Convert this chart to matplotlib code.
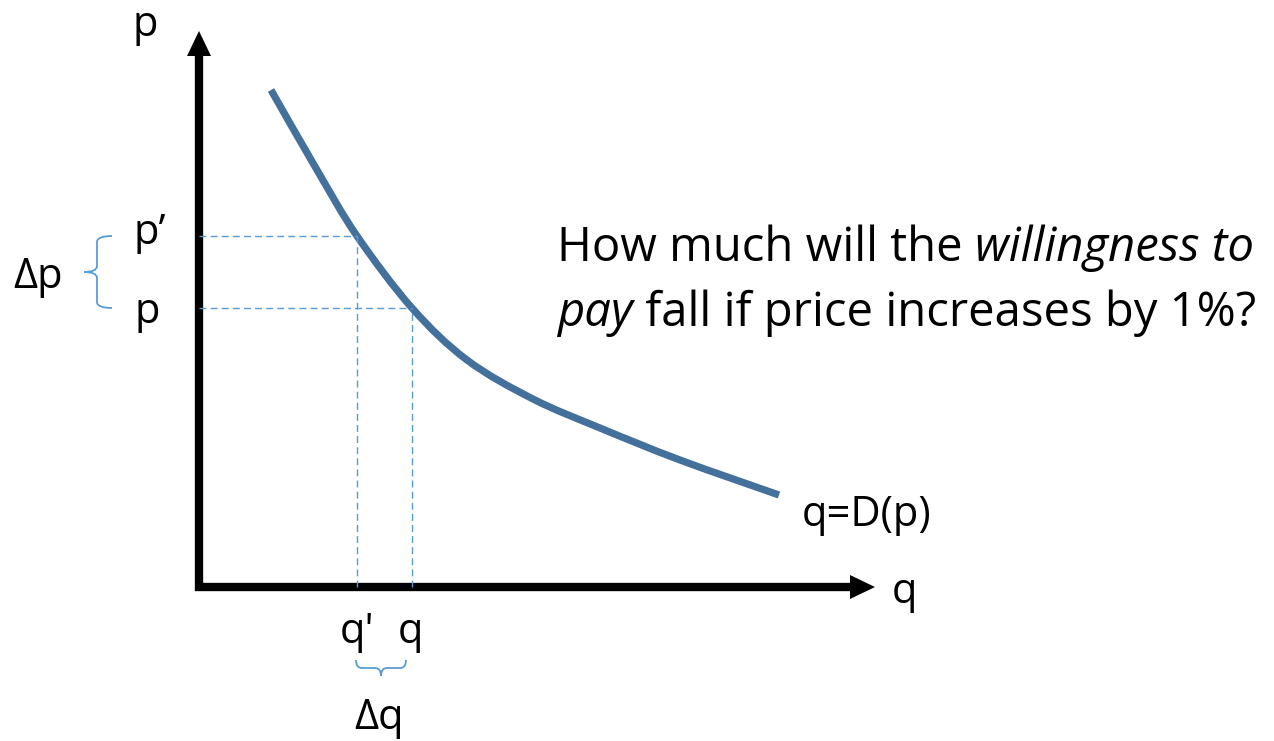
import matplotlib
matplotlib.use("Agg")
import numpy as np
import matplotlib.pyplot as plt
from matplotlib.path import Path
from matplotlib.patches import PathPatch

plt.rcParams['font.family'] = ['Open Sans', 'DejaVu Sans']

# Demand curve q = D(p), read in (quantity, price) units
demand_q = [0.72, 1.18, 1.58, 2.13, 2.68, 3.34, 4.01, 4.81, 5.80]
demand_p = [4.97, 4.17, 3.51, 2.79, 2.27, 1.88, 1.59, 1.27, 0.92]

# Marked points on the curve
q_prime, p_prime = 1.58, 3.51
q_base, p_base = 2.13, 2.79

axis_q_end = 6.76
axis_p_end = 5.56

question_line1 = ("How much will the ", "willingness to")
question_line2 = ("pay", " fall if price increases by 1%?")

CURVE = '#44709c'
GUIDE = '#5b9bd5'

fig = plt.figure(figsize=(12.74, 7.41), dpi=100)
ax = fig.add_axes([0, 0, 1, 1])
ax.set_xlim(-1.99, 10.75)
ax.set_ylim(-1.54, 5.87)
ax.axis('off')

# Axes with arrowheads
head_len, head_half = 0.25, 0.12
ax.plot([0, 0], [-0.04, axis_p_end - head_len + 0.02], color='black', lw=6,
        solid_capstyle='butt')
ax.plot([-0.04, axis_q_end - head_len + 0.02], [0, 0], color='black', lw=6,
        solid_capstyle='butt')
ax.fill([-head_half, head_half, 0], [axis_p_end - head_len] * 2 + [axis_p_end],
        color='black', lw=0)
ax.fill([axis_q_end - head_len] * 2 + [axis_q_end], [-head_half, head_half, 0],
        color='black', lw=0)

# Guide lines from the axes to the curve
dash = dict(color=GUIDE, lw=1.0, ls=(0, (5, 3)))
ax.plot([0, q_prime], [p_prime, p_prime], **dash)
ax.plot([0, q_base], [p_base, p_base], **dash)
ax.plot([q_prime, q_prime], [0, p_prime], **dash)
ax.plot([q_base, q_base], [0, p_base], **dash)


def smooth_path(xs, ys):
    """Cubic Bezier path through the points (Catmull-Rom tangents)."""
    pts = np.column_stack([xs, ys])
    n = len(pts)
    verts = [tuple(pts[0])]
    codes = [Path.MOVETO]
    for i in range(n - 1):
        p0 = pts[max(i - 1, 0)]
        p1 = pts[i]
        p2 = pts[i + 1]
        p3 = pts[min(i + 2, n - 1)]
        c1 = p1 + (p2 - p0) / 6
        c2 = p2 - (p3 - p1) / 6
        verts += [tuple(c1), tuple(c2), tuple(p2)]
        codes += [Path.CURVE4] * 3
    return Path(verts, codes)


# Demand curve
ax.add_patch(PathPatch(smooth_path(demand_q, demand_p), fill=False, ec=CURVE,
                       lw=5.2, capstyle='butt', joinstyle='round'))


def vertical_brace(x, y_top, y_bot, arm, tip, r):
    ym = (y_top + y_bot) / 2
    verts = [(x + arm, y_top), (x, y_top), (x, y_top - r),
             (x, ym + r), (x, ym), (x - tip, ym),
             (x, ym), (x, ym - r),
             (x, y_bot + r), (x, y_bot), (x + arm, y_bot)]
    codes = [Path.MOVETO, Path.CURVE3, Path.CURVE3,
             Path.LINETO, Path.CURVE3, Path.CURVE3,
             Path.CURVE3, Path.CURVE3,
             Path.LINETO, Path.CURVE3, Path.CURVE3]
    ax.add_patch(PathPatch(Path(verts, codes), fill=False, ec=GUIDE, lw=1.3))


def horizontal_brace(y, x_left, x_right, arm, tip, r):
    xm = (x_left + x_right) / 2
    verts = [(x_left, y + arm), (x_left, y), (x_left + r, y),
             (xm - r, y), (xm, y), (xm, y - tip),
             (xm, y), (xm + r, y),
             (x_right - r, y), (x_right, y), (x_right, y + arm)]
    codes = [Path.MOVETO, Path.CURVE3, Path.CURVE3,
             Path.LINETO, Path.CURVE3, Path.CURVE3,
             Path.CURVE3, Path.CURVE3,
             Path.LINETO, Path.CURVE3, Path.CURVE3]
    ax.add_patch(PathPatch(Path(verts, codes), fill=False, ec=GUIDE, lw=1.3))


vertical_brace(-1.02, p_prime, p_base, 0.15, 0.13, 0.06)
horizontal_brace(-0.81, q_prime - 0.01, q_base - 0.06, 0.08, 0.08, 0.06)

fs = 30
ax.text(-0.54, 5.62, 'p', fontsize=fs, ha='center', va='center')
ax.text(axis_q_end + 0.29, -0.05, 'q', fontsize=fs, ha='center', va='center')
ax.text(-0.49, p_prime + 0.03, 'p’', fontsize=fs, ha='center', va='center')
ax.text(-0.52, p_base - 0.04, 'p', fontsize=fs, ha='center', va='center')
ax.text(-1.61, 3.10, 'Δp', fontsize=fs, ha='center', va='center')
ax.text(q_prime, -0.45, "q'", fontsize=fs, ha='center', va='center')
ax.text(q_base - 0.02, -0.45, 'q', fontsize=fs, ha='center', va='center')
ax.text(1.80, -1.31, 'Δq', fontsize=fs, ha='center', va='center')
ax.text(6.68, 0.72, 'q=D(p)', fontsize=fs, ha='center', va='center')

# Question with italic emphasis, built piece by piece
qfs = 34
t1 = ax.text(3.58, 3.39, question_line1[0], fontsize=qfs, ha='left', va='center')
ax.annotate(question_line1[1], xy=(1, 0), xycoords=t1, xytext=(0, 0),
            textcoords='offset points', fontsize=qfs, style='italic',
            ha='left', va='bottom')
t2 = ax.text(3.58, 2.74, question_line2[0], fontsize=qfs, ha='left', va='center',
             style='italic')
ax.annotate(question_line2[1], xy=(1, 0), xycoords=t2, xytext=(0, 0),
            textcoords='offset points', fontsize=qfs, ha='left', va='bottom')

fig.savefig('out.png', dpi=100)
